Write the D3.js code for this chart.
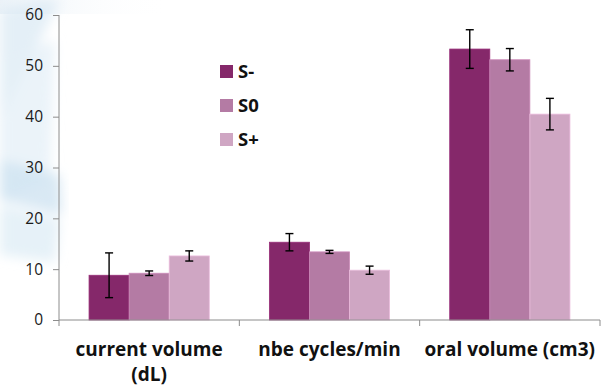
<!DOCTYPE html>
<html>
<head>
<meta charset="utf-8">
<script src="https://cdn.jsdelivr.net/npm/d3@7"></script>
<style>
  html, body { margin: 0; padding: 0; background: #fff; }
  svg { display: block; }
</style>
</head>
<body>
<svg id="chart" width="607" height="388"></svg>
<script>
// Measurements per group and condition
const categories = ["current volume (dL)", "nbe cycles/min", "oral volume (cm3)"];
const categoryLines = [["current volume", "(dL)"], ["nbe cycles/min"], ["oral volume (cm3)"]];
const seriesNames = ["S-", "S0", "S+"];
const seriesColors = ["#85286a", "#b47ba4", "#cfa6c3"];
const meanSMinus = [8.8, 15.3, 53.3];
const meanS0 = [9.2, 13.4, 51.2];
const meanSPlus = [12.6, 9.8, 40.5];
const errSMinus = [4.4, 1.7, 3.8];
const errS0 = [0.45, 0.3, 2.2];
const errSPlus = [1.0, 0.8, 3.1];
const yTicks = [0, 10, 20, 30, 40, 50, 60];

const means = [meanSMinus, meanS0, meanSPlus];
const errs = [errSMinus, errS0, errSPlus];

const FONT = "'Open Sans', 'Noto Sans', sans-serif";
const svg = d3.select("#chart");
const plotLeft = 59, plotRight = 600, plotTop = 15, plotBase = 320;

// Soft decorative backdrop on the left edge
const defs = svg.append("defs");
defs.append("filter").attr("id", "soft").append("feGaussianBlur").attr("stdDeviation", 6);
const lg = defs.append("linearGradient").attr("id", "topband").attr("x1", 0).attr("x2", 1);
lg.append("stop").attr("offset", 0).attr("stop-color", "#dfeaf3");
lg.append("stop").attr("offset", 1).attr("stop-color", "#ffffff").attr("stop-opacity", 0);
svg.append("rect").attr("x", 0).attr("y", 0).attr("width", 170).attr("height", 14).attr("fill", "url(#topband)").attr("opacity", 0.6);
const deco = svg.append("g").attr("filter", "url(#soft)");
deco.append("path").attr("d", "M0,10 L40,0 L60,0 L0,120 Z").attr("fill", "#d8e8f4").attr("opacity", 0.7);
deco.append("path").attr("d", "M0,60 L55,40 L50,180 L0,200 Z").attr("fill", "#e6f0f7").attr("opacity", 0.8);
deco.append("path").attr("d", "M0,160 L60,175 L62,215 L0,200 Z").attr("fill", "#cfe3f1").attr("opacity", 0.8);
deco.append("path").attr("d", "M0,205 L60,220 L55,262 L0,255 Z").attr("fill", "#dcebf5").attr("opacity", 0.7);

const x0 = d3.scaleBand().domain(categories).range([plotLeft, plotRight]);
const inner = 120 / 180;
const x1 = d3.scaleBand().domain(seriesNames).range([0, x0.bandwidth() * inner]);
const y = d3.scaleLinear().domain([0, 60]).range([plotBase, plotTop]);

// Bars
const groups = svg.append("g").selectAll("g").data(categories).join("g")
  .attr("transform", c => `translate(${x0(c) + x0.bandwidth() * (1 - inner) / 2},0)`);

groups.each(function(c, ci) {
  const g = d3.select(this);
  seriesNames.forEach((s, si) => {
    const v = means[si][ci];
    g.append("rect")
      .attr("x", x1(s))
      .attr("y", y(v))
      .attr("width", x1.bandwidth())
      .attr("height", y(0) - y(v))
      .attr("fill", seriesColors[si])
      .attr("stroke", d3.color(seriesColors[si]).brighter(0.35))
      .attr("stroke-width", 0.8);
  });
  seriesNames.forEach((s, si) => {
    const v = means[si][ci], e = errs[si][ci];
    const cx = x1(s) + x1.bandwidth() / 2;
    const eb = g.append("g").attr("stroke", "#000").attr("stroke-width", 1.4);
    eb.append("line").attr("x1", cx).attr("x2", cx).attr("y1", y(v + e)).attr("y2", y(v - e));
    eb.append("line").attr("x1", cx - 4).attr("x2", cx + 4).attr("y1", y(v + e)).attr("y2", y(v + e));
    eb.append("line").attr("x1", cx - 4).attr("x2", cx + 4).attr("y1", y(v - e)).attr("y2", y(v - e));
  });
});

// Y axis
const yAxis = svg.append("g").attr("transform", `translate(${plotLeft},0)`)
  .call(d3.axisLeft(y).tickValues(yTicks).tickSize(6).tickPadding(10).tickSizeOuter(0));
yAxis.select(".domain").attr("stroke", "#8c8c8c").attr("d", `M0,${y(0) + 6}V${y(60)}`);
yAxis.selectAll(".tick line").attr("stroke", "#8c8c8c");
yAxis.selectAll(".tick text").attr("font-family", FONT).attr("font-size", 15.5).attr("fill", "#1a1a1a");

// X axis with boundary ticks
const xAxis = svg.append("g");
xAxis.append("line").attr("x1", plotLeft).attr("x2", plotRight).attr("y1", y(0)).attr("y2", y(0))
  .attr("stroke", "#8c8c8c");
const bounds = categories.map(c => x0(c) + x0.bandwidth());
xAxis.selectAll(".bt").data(bounds).join("line").attr("class", "bt")
  .attr("x1", d => d).attr("x2", d => d).attr("y1", y(0)).attr("y2", y(0) + 6)
  .attr("stroke", "#8c8c8c");

const labels = svg.append("g").selectAll("text").data(categories).join("text")
  .attr("x", c => x0(c) + x0.bandwidth() / 2)
  .attr("y", 356)
  .attr("text-anchor", "middle")
  .attr("font-family", FONT)
  .attr("font-weight", "bold")
  .attr("font-size", 19)
  .attr("fill", "#111");
labels.each(function(c, i) {
  const t = d3.select(this);
  categoryLines[i].forEach((line, li) => {
    t.append("tspan").attr("x", x0(c) + x0.bandwidth() / 2).attr("dy", li === 0 ? 0 : 25).text(line);
  });
});

// Legend
const legend = svg.append("g").selectAll("g").data(seriesNames).join("g")
  .attr("transform", (d, i) => `translate(220,${65 + i * 34})`);
legend.append("rect").attr("width", 13).attr("height", 13).attr("fill", (d, i) => seriesColors[i]);
legend.append("text").attr("x", 18).attr("y", 13)
  .attr("font-family", FONT).attr("font-weight", "bold")
  .attr("font-size", 18.5).attr("fill", "#111").text(d => d);
</script>
</body>
</html>
